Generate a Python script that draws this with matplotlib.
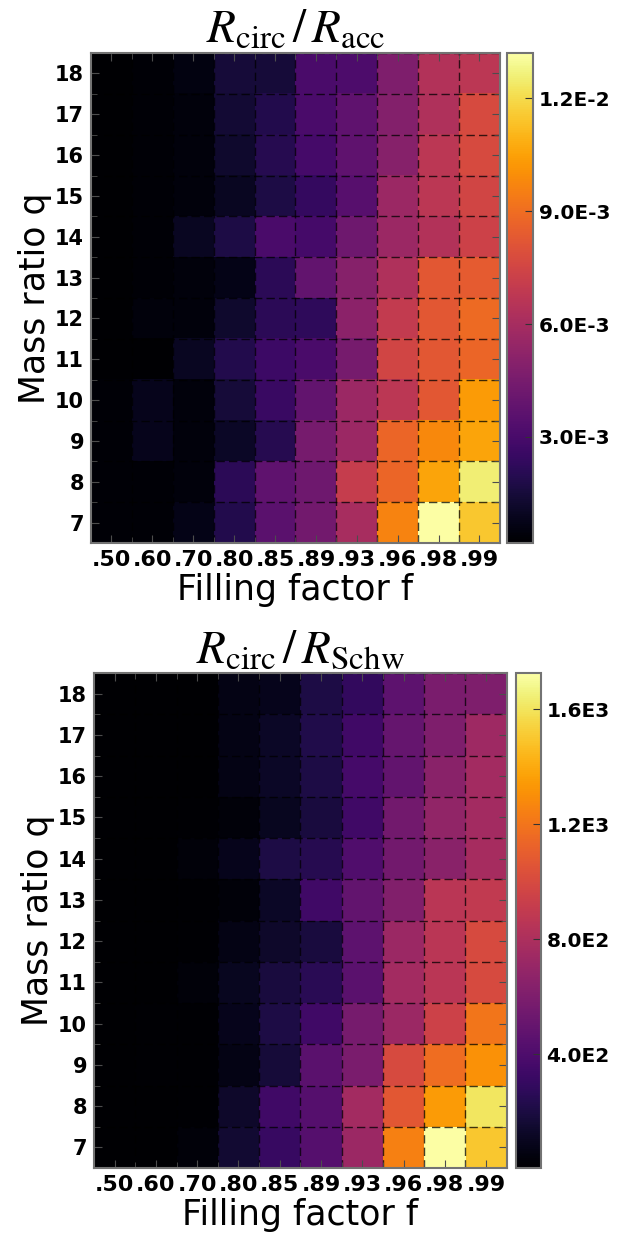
import numpy as np
import matplotlib
matplotlib.use("Agg")
from matplotlib import pyplot as plt

plt.rcParams['mathtext.fontset'] = 'stix'

f_labels = ['.50', '.60', '.70', '.80', '.85', '.89', '.93', '.96', '.98', '.99']
q_labels = ['7', '8', '9', '10', '11', '12', '13', '14', '15', '16', '17', '18']

# R_circ / R_acc in units of 1e-3, rows q = 18 (top) ... 7 (bottom)
r_acc = [
    [0.18, 0.31, 0.57, 1.48, 1.48, 3.04, 3.17, 4.74, 6.43, 6.69],
    [0.18, 0.31, 0.44, 1.35, 1.87, 3.04, 3.70, 4.87, 6.30, 7.73],
    [0.18, 0.31, 0.44, 1.22, 2.00, 2.91, 3.70, 5.00, 6.69, 7.73],
    [0.18, 0.31, 0.44, 0.96, 1.74, 2.39, 3.44, 5.65, 6.69, 7.47],
    [0.18, 0.31, 0.96, 1.74, 3.04, 2.91, 4.22, 5.65, 6.43, 7.34],
    [0.18, 0.31, 0.44, 0.70, 2.13, 3.83, 5.00, 6.30, 8.25, 8.38],
    [0.18, 0.44, 0.44, 1.22, 2.13, 2.26, 5.13, 6.95, 8.25, 8.90],
    [0.18, 0.18, 0.96, 1.87, 2.65, 3.04, 4.48, 7.47, 8.25, 8.77],
    [0.31, 0.83, 0.44, 1.48, 2.52, 3.83, 5.65, 6.69, 8.25, 10.34],
    [0.31, 0.83, 0.44, 1.09, 2.00, 4.48, 5.65, 8.77, 9.81, 10.60],
    [0.31, 0.31, 0.44, 2.13, 3.70, 4.22, 7.08, 8.77, 10.60, 12.55],
    [0.31, 0.31, 0.70, 1.87, 3.57, 4.35, 6.04, 9.68, 13.20, 11.50],
]

# R_circ / R_Schw, rows q = 18 (top) ... 7 (bottom)
r_schw = [
    [4, 8, 10, 69, 86, 207, 293, 466, 587, 604],
    [4, 8, 10, 69, 121, 224, 345, 501, 604, 742],
    [4, 8, 10, 69, 121, 207, 362, 483, 656, 759],
    [4, 8, 17, 35, 104, 190, 345, 552, 690, 759],
    [4, 8, 35, 86, 207, 242, 414, 552, 656, 777],
    [4, 8, 17, 35, 121, 345, 483, 621, 863, 898],
    [4, 8, 17, 69, 138, 190, 466, 725, 863, 1001],
    [4, 8, 35, 104, 190, 259, 449, 759, 863, 1001],
    [4, 17, 17, 86, 207, 345, 570, 725, 949, 1208],
    [4, 17, 17, 69, 173, 449, 587, 1001, 1174, 1312],
    [4, 8, 17, 138, 345, 432, 759, 1070, 1346, 1605],
    [4, 8, 35, 155, 311, 432, 725, 1243, 1726, 1502],
]

acc_ticks = [3.0e-3, 6.0e-3, 9.0e-3, 1.2e-2]
acc_ticklabels = ['3.0E-3', '6.0E-3', '9.0E-3', '1.2E-2']
schw_ticks = [400, 800, 1200, 1600]
schw_ticklabels = ['4.0E2', '8.0E2', '1.2E3', '1.6E3']


def heatmap(ax, cax, data, title, ticks, ticklabels):
    data = np.flipud(np.array(data))
    im = ax.imshow(data, origin='lower', aspect='auto', cmap='inferno',
                   interpolation='nearest')
    ax.set_xticks(np.arange(len(f_labels)))
    ax.set_xticklabels(f_labels, fontsize=16, fontweight='bold')
    ax.set_yticks(np.arange(len(q_labels)))
    ax.set_yticklabels(q_labels, fontsize=15, fontweight='bold')
    ax.set_xticks(np.arange(len(f_labels) + 1) - 0.5, minor=True)
    ax.set_yticks(np.arange(len(q_labels) + 1) - 0.5, minor=True)
    ax.tick_params(which='both', direction='in', top=True, right=True,
                   color='0.3', pad=5)
    ax.tick_params(which='major', length=6)
    ax.tick_params(which='minor', length=4)
    ax.grid(which='minor', color='k', linestyle=(0, (6, 3)), linewidth=1,
            alpha=0.75)
    ax.grid(which='major', visible=False)
    for s in ax.spines.values():
        s.set_color('0.45')
        s.set_linewidth(1.5)
    ax.set_xlabel('Filling factor f', fontsize=25, labelpad=2)
    ax.set_ylabel('Mass ratio q', fontsize=25, labelpad=2)
    ax.set_title(title, fontsize=34, pad=6)

    cb = plt.colorbar(im, cax=cax, ticks=ticks)
    cb.ax.set_yticklabels(ticklabels, fontsize=14.5, fontweight='bold')
    cb.ax.tick_params(direction='in', length=6, color='0.2', pad=4)
    cb.outline.set_edgecolor('0.45')
    cb.outline.set_linewidth(1.5)


fig = plt.figure(figsize=(6.35, 12.39), dpi=100)

ax1 = fig.add_axes([0.1433, 0.5617, 0.644, 0.3955])
cax1 = fig.add_axes([0.7984, 0.5617, 0.041, 0.3955])
heatmap(ax1, cax1, np.array(r_acc) * 1e-3,
        r'$R_{\rm circ}\,/\,R_{\rm acc}$', acc_ticks, acc_ticklabels)

ax2 = fig.add_axes([0.148, 0.0573, 0.650, 0.3995])
cax2 = fig.add_axes([0.8126, 0.0573, 0.039, 0.3995])
heatmap(ax2, cax2, r_schw,
        r'$R_{\rm circ}\,/\,R_{\rm Schw}$', schw_ticks, schw_ticklabels)

plt.savefig('out.png', dpi=100)
